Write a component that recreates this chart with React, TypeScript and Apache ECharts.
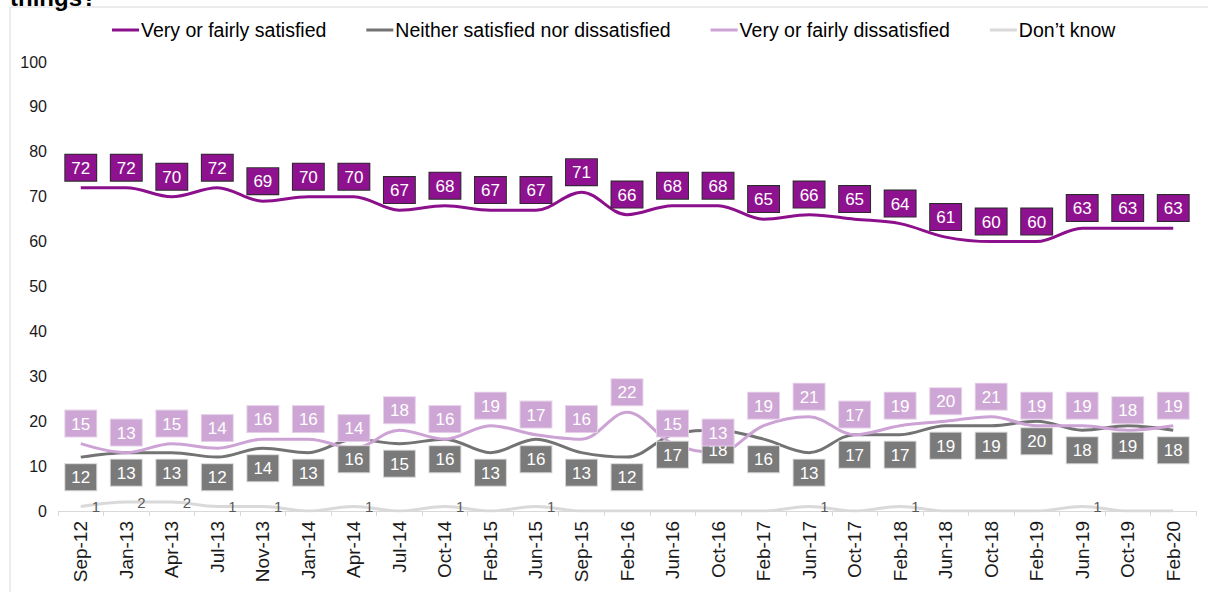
import React, { useEffect, useRef } from "react";
import * as echarts from "echarts";

const categories = ["Sep-12","Jan-13","Apr-13","Jul-13","Nov-13","Jan-14","Apr-14","Jul-14","Oct-14","Feb-15","Jun-15","Sep-15","Feb-16","Jun-16","Oct-16","Feb-17","Jun-17","Oct-17","Feb-18","Jun-18","Oct-18","Feb-19","Jun-19","Oct-19","Feb-20"];
const satisfied = [72,72,70,72,69,70,70,67,68,67,67,71,66,68,68,65,66,65,64,61,60,60,63,63,63];
const neither = [12,13,13,12,14,13,16,15,16,13,16,13,12,17,18,16,13,17,17,19,19,20,18,19,18];
const dissatisfied = [15,13,15,14,16,16,14,18,16,19,17,16,22,15,13,19,21,17,19,20,21,19,19,18,19];
const dontKnow = [1,2,2,1,1,0,1,0,1,0,1,0,0,0,0,0,1,0,1,0,0,0,1,0,0];
const seriesNames = ["Very or fairly satisfied","Neither satisfied nor dissatisfied","Very or fairly dissatisfied","Don\u2019t know"];

const FONT = "Liberation Sans, Arial, sans-serif";

export default function App() {
  const ref = useRef<HTMLDivElement>(null);
  useEffect(() => {
    if (!ref.current) return;
    const chart = echarts.init(ref.current, undefined, { renderer: "svg" });
    const boxLabel = (pos: string, bg: string, border: string) => ({
      show: true,
      position: pos,
      distance: 7,
      color: "#ffffff",
      fontFamily: FONT,
      fontSize: 17,
      lineHeight: 19,
      backgroundColor: bg,
      borderColor: border,
      borderWidth: 1,
      padding: [4, 6, 3, 6],
    });
    const sym = (color: string) => ({
      symbol: "circle",
      symbolSize: 0.1,
      showSymbol: true,
      itemStyle: { color },
    });
    chart.setOption({
      animation: false,
      textStyle: { fontFamily: FONT },
      graphic: [
        { type: "rect", shape: { x: 10, y: 7, width: 1400, height: 800 }, style: { fill: "none", stroke: "#D9D9D9", lineWidth: 1 }, z: -1 },
        { type: "text", x: 10, y: -15, style: { text: "things?", font: "bold 24px Liberation Sans, Arial, sans-serif", fill: "#000" } },
      ],
      legend: {
        top: 15,
        left: 107,
        itemGap: 40,
        itemWidth: 27,
        itemHeight: 3,
        icon: "rect",
        textStyle: { fontSize: 19.5, color: "#000", fontFamily: FONT, padding: [0, 0, 0, -3] },
        data: seriesNames,
      },
      grid: { left: 58, right: 12, top: 62, bottom: 81, containLabel: false },
      xAxis: {
        type: "category",
        data: categories,
        boundaryGap: true,
        axisLine: { lineStyle: { color: "#D9D9D9", width: 1 } },
        axisTick: { show: true, length: 5, lineStyle: { color: "#D9D9D9" } },
        axisLabel: { rotate: 90, interval: 0, fontSize: 19, color: "#1a1a1a", margin: 10, fontFamily: FONT },
      },
      yAxis: {
        type: "value",
        min: 0,
        max: 100,
        interval: 10,
        splitLine: { show: false },
        axisLine: { show: false },
        axisTick: { show: false },
        axisLabel: { fontSize: 16, color: "#1a1a1a", margin: 11, fontFamily: FONT },
      },
      series: [
        {
          name: seriesNames[0], type: "line", data: satisfied, smooth: 0.35, ...sym("#8C0F8C"),
          lineStyle: { color: "#8C0F8C", width: 3 },
          label: boxLabel("top", "#8E1290", "#2B2B2B"), z: 4,
        },
        {
          name: seriesNames[1], type: "line", data: neither, smooth: 0.35, ...sym("#737373"),
          lineStyle: { color: "#737373", width: 3 },
          label: boxLabel("bottom", "#7A7A7A", "#D4D4D4"), z: 3,
        },
        {
          name: seriesNames[2], type: "line", data: dissatisfied, smooth: 0.35, ...sym("#CDA2D4"),
          lineStyle: { color: "#CDA2D4", width: 3 },
          label: boxLabel("top", "#CEA6D5", "#E6D3E9"), z: 3,
        },
        {
          name: seriesNames[3], type: "line", data: dontKnow, smooth: 0.35, ...sym("#D9D9D9"),
          lineStyle: { color: "#D9D9D9", width: 3 },
          label: {
            show: true, position: "right", distance: 11, offset: [0, 0], color: "#595959", fontSize: 15, fontFamily: FONT,
            formatter: (p: any) => (p.value ? String(p.value) : ""),
          },
          z: 2,
        },
      ],
    });
    return () => chart.dispose();
  }, []);
  return <div ref={ref} style={{ position: "fixed", left: 0, top: 0, width: 1208, height: 592, background: "#fff" }} />;
}
